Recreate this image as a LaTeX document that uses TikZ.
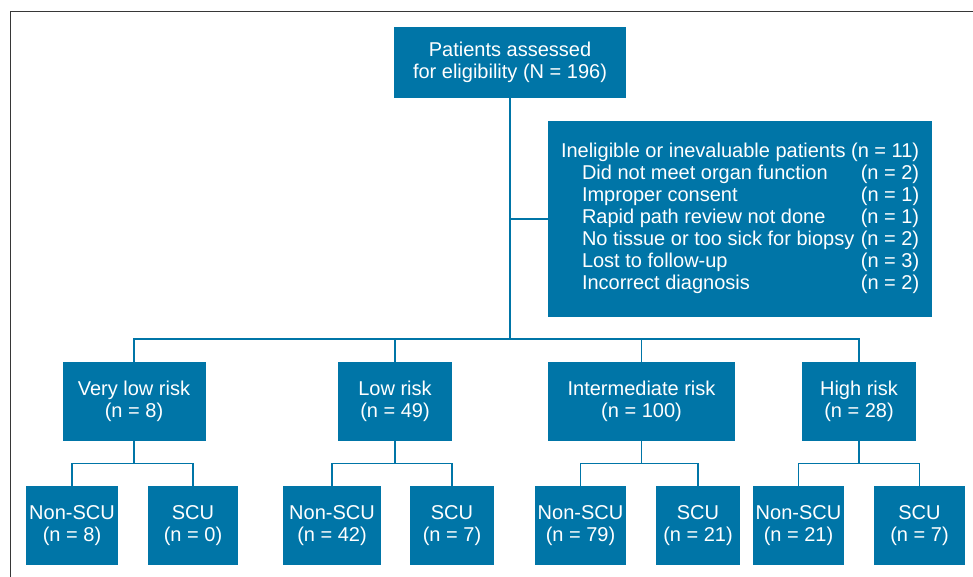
\documentclass[tikz,border=0pt]{standalone}
\usepackage{fontspec}
\setmainfont{Liberation Sans}
\usepackage{xcolor}
\usepackage{tikz}
\usetikzlibrary{positioning, calc}

\definecolor{boxblue}{RGB}{0,117,167}
\definecolor{framegray}{RGB}{55,55,55}

\begin{document}
\begin{tikzpicture}[x=0.75pt, y=-0.75pt,
  every node/.style={font=\fontsize{15}{16.6}\selectfont},
  box/.style={fill=boxblue, text=white, align=center, inner sep=0pt},
  boxsize/.style 2 args={minimum width=#1*0.75pt, minimum height=#2*0.75pt},
  link/.style={draw=boxblue, line width=1.1pt}]
\useasboundingbox (0,0) rectangle (973,576);
% Outer frame (runs off the right and bottom edges)
\draw[framegray, line width=1.1pt] (10.5,580) -- (10.5,11.5) -- (980,11.5);
% Top box
\node[box, boxsize={232}{71}] (assess) at (510,62.5) {Patients assessed\\for eligibility (N = 196)};
% Exclusions
\node[box, boxsize={384}{196}] (inelig) at (740,219) {%
  \begin{tabular*}{268.5pt}{@{}l@{\extracolsep{\fill}}r@{}}
  \multicolumn{2}{@{}l@{}}{Ineligible or inevaluable patients (n = 11)}\\
  \hspace*{15.75pt}Did not meet organ function & (n = 2)\\
  \hspace*{15.75pt}Improper consent & (n = 1)\\
  \hspace*{15.75pt}Rapid path review not done & (n = 1)\\
  \hspace*{15.75pt}No tissue or too sick for biopsy & (n = 2)\\
  \hspace*{15.75pt}Lost to follow-up & (n = 3)\\
  \hspace*{15.75pt}Incorrect diagnosis & (n = 2)
  \end{tabular*}};
% Risk groups
\foreach \name/\x/\w/\txt in {vlow/134/143/Very low risk\\(n = 8),
    low/395/114/Low risk\\(n = 49),
    inter/641.5/187/Intermediate risk\\(n = 100),
    high/859/114/High risk\\(n = 28)} {
  \node[box, boxsize={\w}{79}] (\name) at (\x,401.5) {\txt};
}
% SCU split
\foreach \name/\x/\w/\txt in {vlowA/72/92/Non-SCU\\(n = 8), vlowB/193/90/SCU\\(n = 0),
    lowA/332/98/Non-SCU\\(n = 42), lowB/452/84/SCU\\(n = 7),
    interA/580.5/91/Non-SCU\\(n = 79), interB/698/84/SCU\\(n = 21),
    highA/798.5/91/Non-SCU\\(n = 21), highB/919.5/91/SCU\\(n = 7)} {
  \node[box, boxsize={\w}{78.5}] (\name) at (\x,525.25) {\txt};
}
% Connectors
\coordinate (riskbar) at (510,339);
\draw[link] (assess) -- (riskbar);
\draw[link] (assess.south |- inelig.west) -- (inelig.west);
\foreach \r in {vlow,low,inter,high} {
  \draw[link] (riskbar) -| (\r.north);
  \draw[link] (\r.south) -- ++(0,22) -| (\r A.north);
  \draw[link] (\r.south) ++(0,22) -| (\r B.north);
}
\end{tikzpicture}
\end{document}
